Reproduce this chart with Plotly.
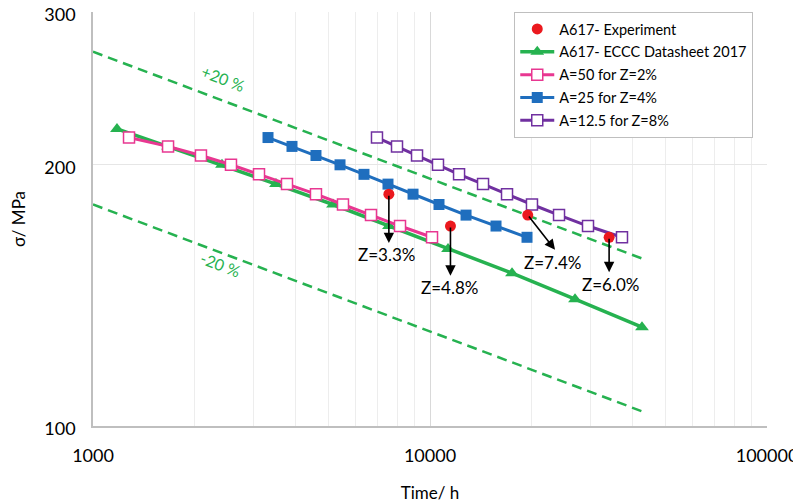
import numpy as np
import plotly.graph_objects as go

# ---- data ----
exp_time = [7550, 11500, 19500, 34000]
exp_stress = [185, 170, 175, 165]

eccc_time = [1178, 1670, 2414, 3491, 5155, 7554, 11310, 17514, 26935, 42560]
eccc_stress = [220, 210, 200, 190, 180, 170, 160, 150, 140, 130]

a50_time = [1279, 1670, 2091, 2567, 3109, 3764, 4588, 5518, 6682, 8147, 10139]
a50_stress = [215, 210, 205, 200, 195, 190, 185, 180, 175, 170, 165]

a25_time = [3306, 3895, 4588, 5407, 6370, 7505, 8905, 10634, 12792, 15700, 19404]
a25_stress = [215, 210, 205, 200, 195, 190, 185, 180, 175, 170, 165]

a125_time = [6961, 7982, 9152, 10561, 12196, 14368, 16926, 20071, 24147, 29436, 37128]
a125_stress = [215, 210, 205, 200, 195, 190, 185, 180, 175, 170, 165]

band_time = [1000, 42500]
upper_stress = [270, 156]
lower_stress = [180, 104]

# Z labels: text, arrow tip (time, stress), label centre (time, stress)
z_labels = ["Z=3.3%", "Z=4.8%", "Z=7.4%", "Z=6.0%"]
z_tip_time = [7550, 11500, 23500, 34000]
z_tip_stress = [162.5, 149, 159.6, 150.4]
z_text_time = [7450, 11450, 23100, 34300]
z_text_stress = [157.5, 144.6, 154.3, 145.6]

x_ticks = [1000, 10000, 100000]
y_ticks = [100, 200, 300]

GREEN = "rgb(38,178,80)"
PINK = "rgb(232,55,145)"
BLUE = "rgb(31,110,190)"
PURPLE = "rgb(112,48,160)"
RED = "rgb(235,25,30)"
FONT = "Lato"

fig = go.Figure()

fig.add_trace(go.Scatter(x=band_time, y=upper_stress, mode="lines",
                         line=dict(color=GREEN, width=2.5, dash="10px,6px"),
                         showlegend=False, hoverinfo="skip"))
fig.add_trace(go.Scatter(x=band_time, y=lower_stress, mode="lines",
                         line=dict(color=GREEN, width=2.5, dash="10px,6px"),
                         showlegend=False, hoverinfo="skip"))

fig.add_trace(go.Scatter(x=eccc_time, y=eccc_stress, mode="lines+markers",
                         name="A617- ECCC Datasheet 2017", legendrank=2, legendgroup="b",
                         line=dict(color=GREEN, width=3.5),
                         marker=dict(symbol="triangle-up", size=12, color=GREEN)))
fig.add_trace(go.Scatter(x=a50_time, y=a50_stress, mode="lines+markers",
                         name="A=50 for Z=2%", legendrank=3, legendgroup="c",
                         line=dict(color=PINK, width=3),
                         marker=dict(symbol="square", size=11, color="white",
                                     line=dict(color=PINK, width=1.5))))
fig.add_trace(go.Scatter(x=a25_time, y=a25_stress, mode="lines+markers",
                         name="A=25 for Z=4%", legendrank=4, legendgroup="d",
                         line=dict(color=BLUE, width=3),
                         marker=dict(symbol="square", size=11, color=BLUE)))
fig.add_trace(go.Scatter(x=a125_time, y=a125_stress, mode="lines+markers",
                         name="A=12.5 for Z=8%", legendrank=5, legendgroup="e",
                         line=dict(color=PURPLE, width=3),
                         marker=dict(symbol="square", size=11, color="white",
                                     line=dict(color=PURPLE, width=1.5))))
fig.add_trace(go.Scatter(x=exp_time, y=exp_stress, mode="markers",
                         name="A617- Experiment", legendrank=1, legendgroup="a",
                         marker=dict(symbol="circle", size=11, color=RED)))

annotations = []
for lab, tx, ty, ex, ey, sx, sy in zip(z_labels, z_tip_time, z_tip_stress,
                                       exp_time, exp_stress, z_text_time, z_text_stress):
    annotations.append(dict(x=np.log10(tx), y=np.log10(ty), ax=np.log10(ex), ay=np.log10(ey),
                            xref="x", yref="y", axref="x", ayref="y", text="",
                            showarrow=True, arrowhead=2, arrowsize=1.3, arrowwidth=1.6,
                            arrowcolor="black"))
    annotations.append(dict(x=np.log10(sx), y=np.log10(sy), xref="x", yref="y",
                            text=lab, showarrow=False,
                            font=dict(family=FONT, size=17, color="black")))

annotations.append(dict(x=np.log10(2447), y=np.log10(251.8), xref="x", yref="y",
                        text="+20 %", showarrow=False, textangle=21,
                        font=dict(family=FONT, size=16, color=GREEN)))
annotations.append(dict(x=np.log10(2398), y=np.log10(153.7), xref="x", yref="y",
                        text="-20 %", showarrow=False, textangle=21,
                        font=dict(family=FONT, size=16, color=GREEN)))

minor_x = [m * 10 ** e for e in (3, 4) for m in range(2, 10)]

# the page body adds an 8px offset, so the figure is 8px smaller and shifted
fig.update_layout(
    width=793, height=495,
    margin=dict(l=85, r=34, t=4, b=77, autoexpand=False),
    paper_bgcolor="white", plot_bgcolor="white",
    font=dict(family=FONT, color="black"),
    showlegend=True,
    legend=dict(x=0.625, y=1, xanchor="left", yanchor="top",
                bgcolor="white", bordercolor="#BFBFBF", borderwidth=1,
                font=dict(family=FONT, size=14.5, color="black"),
                traceorder="grouped", tracegroupgap=1, itemwidth=34),
    annotations=annotations,
    xaxis=dict(type="log", range=[3, 5], tickvals=x_ticks,
               ticktext=[str(v) for v in x_ticks], automargin=False,
               ticklabeloverflow="allow",
               showgrid=True, gridcolor="#D9D9D9", gridwidth=1,
               minor=dict(tickvals=minor_x, showgrid=True, gridcolor="#EDEDED", gridwidth=1),
               showline=True, linecolor="#BFBFBF", linewidth=1.5,
               ticks="", ticklabelstandoff=13, zeroline=False,
               tickfont=dict(family=FONT, size=18, color="black"),
               title=dict(text="Time/ h", standoff=23,
                          font=dict(family=FONT, size=17, color="black"))),
    yaxis=dict(type="log", range=[2, np.log10(300)], tickvals=y_ticks,
               ticktext=[str(v) for v in y_ticks], automargin=False,
               ticklabeloverflow="allow", ticklabelshift=3,
               showgrid=True, gridcolor="#E6E6E6", gridwidth=1,
               showline=True, linecolor="#BFBFBF", linewidth=1.5,
               ticks="", ticklabelstandoff=12, zeroline=False,
               tickfont=dict(family=FONT, size=18, color="black"),
               title=dict(text="σ/ MPa", standoff=18,
                          font=dict(family=FONT, size=17, color="black"))),
)

fig.write_html("out.html")
